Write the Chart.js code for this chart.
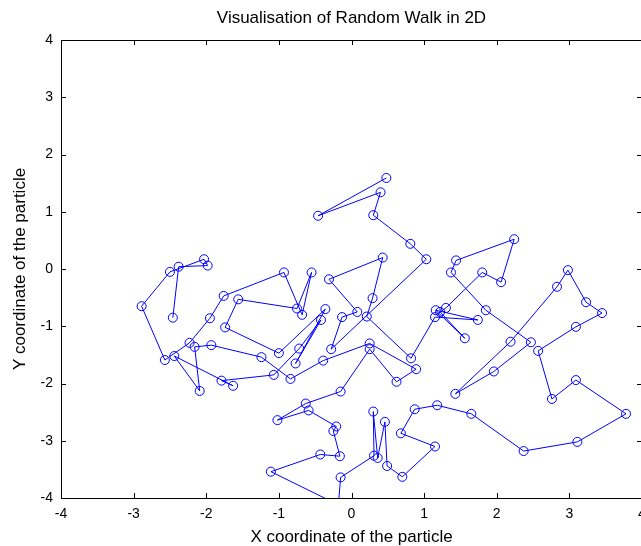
<!DOCTYPE html>
<html>
<head>
<meta charset="utf-8">
<script src="https://cdn.jsdelivr.net/npm/chart.js@4"></script>
<style>
  html, body { margin: 0; padding: 0; background: #fff; overflow: hidden; }
</style>
</head>
<body>
<canvas id="walk" width="660" height="546"></canvas>
<script>
// particle positions, in step order
const walkX = [
  0.48, -0.46, 0.40, 0.30, 0.81, 1.03, -0.28, -0.13, 0.08, -0.31,
  0.43, 0.29, 0.21, 0.82, 1.15, 1.74, 1.16, 1.56, 1.22, 1.30,
  1.80, 2.06, 2.24, 1.44, 1.37, 1.85, 2.47, 1.96, 1.43, 2.19,
  2.83, 2.98, 3.23, 3.45, 3.09, 2.57, 2.76, 3.09, 3.78, 3.11,
  2.37, 1.65, 1.18, 0.87, 0.68, 1.15, 0.70, 0.49, 0.46, 0.36,
  0.30, 0.31, -0.15, -0.18, -1.11, -0.43, -0.16, -0.25, -0.21, -0.59,
  -1.02, -0.63, -0.15, 0.25, 0.62, 0.89, 0.25, -0.39, -0.84, -1.24,
  -1.93, -2.16, -2.09, -2.44, -1.63, -1.79, -1.07, -0.72, -0.42, -0.77,
  -0.36, -1.00, -1.74, -1.56, -0.75, -0.55, -0.68, -0.93, -1.76, -1.95,
  -2.23, -2.57, -2.89, -2.50, -2.03, -1.98, -2.38, -2.46
];
const walkY = [
  1.59, 0.93, 1.34, 0.94, 0.44, 0.17, -1.40, -0.84, -0.75, -0.18,
  0.20, -0.51, -0.83, -1.56, -0.84, -0.89, -0.72, -1.21, -0.75, -0.68,
  -0.06, -0.23, 0.52, 0.15, -0.06, -0.72, -1.28, -1.79, -2.18, -1.27,
  -0.31, -0.02, -0.58, -0.77, -1.01, -1.43, -2.27, -1.94, -2.53, -3.02,
  -3.18, -2.53, -2.38, -2.45, -2.87, -3.10, -3.63, -3.44, -2.67, -3.30,
  -2.49, -3.26, -3.64, -4.12, -3.54, -3.24, -3.27, -2.83, -2.75, -2.47,
  -2.64, -2.35, -2.14, -1.40, -1.97, -1.75, -1.30, -1.60, -1.92, -1.54,
  -1.33, -1.36, -2.13, -1.52, -2.04, -1.95, -1.85, -1.39, -0.89, -1.65,
  -0.70, -1.47, -1.02, -0.53, -0.69, -0.06, -0.80, -0.06, -0.47, -0.86,
  -1.29, -1.59, -0.65, -0.05, 0.17, 0.06, 0.04, -0.85
];
const xTicks = [-4, -3, -2, -1, 0, 1, 2, 3, 4];
const yTicks = [-4, -3, -2, -1, 0, 1, 2, 3, 4];

const titleText = "Visualisation of Random Walk in 2D";
const xLabel = "X coordinate of the particle";
const yLabel = "Y coordinate of the particle";

const FONT = "'Liberation Sans', Arial, sans-serif";
const TICK = 5;

// box round the axes with inward ticks on all four sides, plus the texts
const frame = {
  id: "frame",
  afterDraw(chart) {
    const { ctx, chartArea: a, scales: { x, y } } = chart;
    ctx.save();
    ctx.strokeStyle = "#000";
    ctx.lineWidth = 1;
    ctx.strokeRect(a.left + 0.5, a.top + 0.5, a.right - a.left, a.bottom - a.top);
    ctx.beginPath();
    xTicks.forEach(v => {
      const px = Math.round(x.getPixelForValue(v)) + 0.5;
      ctx.moveTo(px, a.bottom); ctx.lineTo(px, a.bottom - TICK);
      ctx.moveTo(px, a.top);    ctx.lineTo(px, a.top + TICK);
    });
    yTicks.forEach(v => {
      const py = Math.round(y.getPixelForValue(v)) + 0.5;
      ctx.moveTo(a.left, py);  ctx.lineTo(a.left + TICK, py);
      ctx.moveTo(a.right, py); ctx.lineTo(a.right - TICK, py);
    });
    ctx.stroke();

    ctx.fillStyle = "#000";
    ctx.textAlign = "center";
    ctx.textBaseline = "middle";
    const cx = (a.left + a.right) / 2;
    ctx.font = "17px " + FONT;
    ctx.fillText(titleText, cx, 18);
    ctx.fillText(xLabel, cx, 537);
    ctx.translate(20, (a.top + a.bottom) / 2);
    ctx.rotate(-Math.PI / 2);
    ctx.fillText(yLabel, 0, 0);
    ctx.restore();
  }
};

new Chart(document.getElementById("walk"), {
  type: "scatter",
  data: {
    datasets: [{
      data: walkX.map((v, i) => ({ x: v, y: walkY[i] })),
      showLine: true,
      borderColor: "#0000ff",
      borderWidth: 1,
      pointRadius: 4.5,
      pointHoverRadius: 4.5,
      pointBorderWidth: 1,
      pointBorderColor: "#0000ff",
      pointBackgroundColor: "rgba(0,0,0,0)",
      tension: 0,
    }],
  },
  options: {
    responsive: false,
    devicePixelRatio: 1,
    animation: false,
    layout: { padding: { top: 40, right: 18, left: 0, bottom: 0 } },
    plugins: {
      legend: { display: false },
      tooltip: { enabled: false },
    },
    scales: {
      x: {
        type: "linear",
        min: -4, max: 4,
        grid: { display: false },
        border: { display: false },
        afterBuildTicks: s => { s.ticks = xTicks.map(v => ({ value: v })); },
        afterFit: s => { s.height = 48; },
        ticks: {
          autoSkip: false, maxRotation: 0, padding: 0,
          color: "#000", font: { family: FONT, size: 14 },
        },
      },
      y: {
        type: "linear",
        min: -4, max: 4,
        grid: { display: false },
        border: { display: false },
        afterBuildTicks: s => { s.ticks = yTicks.map(v => ({ value: v })); },
        afterFit: s => { s.width = 61; },
        ticks: {
          autoSkip: false, padding: 0,
          color: "#000", font: { family: FONT, size: 14 },
        },
      },
    },
  },
  plugins: [frame],
});
</script>
</body>
</html>
